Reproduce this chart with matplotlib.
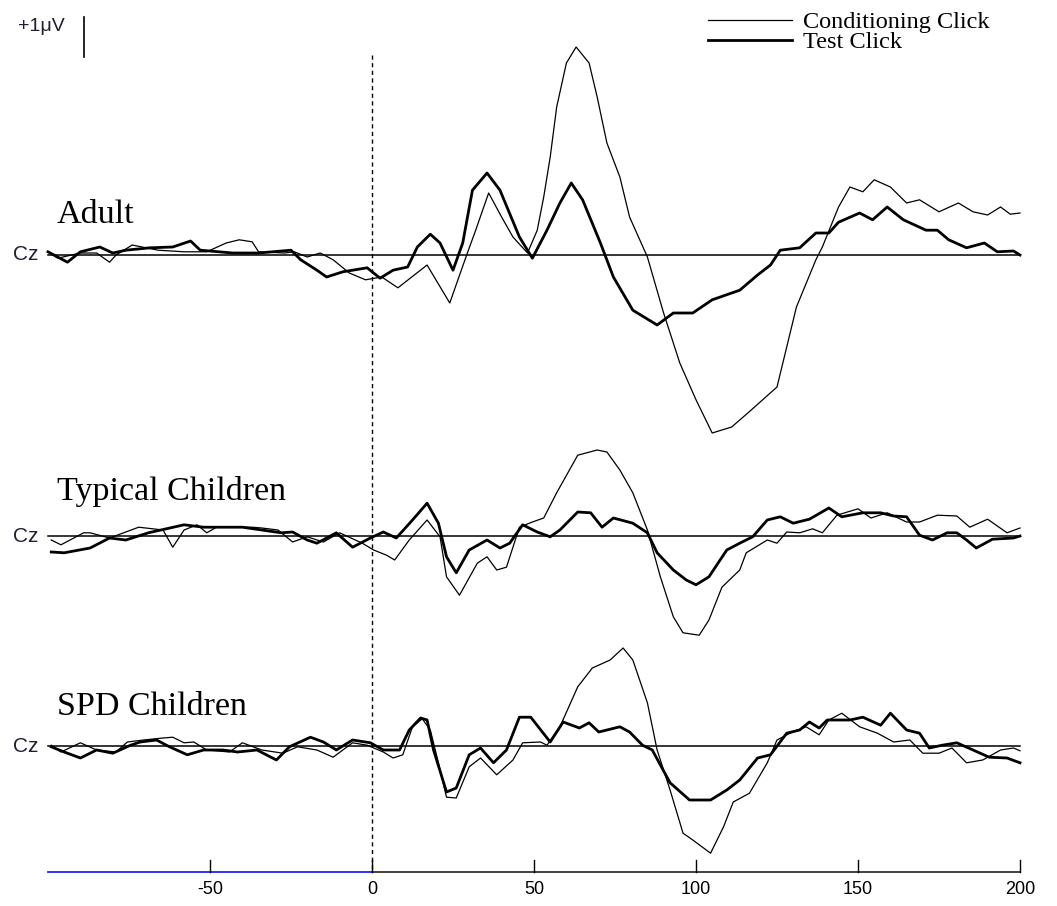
import matplotlib
matplotlib.use("Agg")
import matplotlib.pyplot as plt
import numpy as np

# ---- data (time in ms, amplitude in uV) ----
adult_cond_ms = [-100, -97, -90, -85, -81, -79, -74, -71, -66, -58, -51, -45, -41, -37, -35, -27, -24, -20, -16, -12,
                 -7, -2, 3, 8, 17, 24, 29, 32, 36, 40, 43.5, 48, 51, 53, 55, 57, 60, 63, 67, 69.5,
                 72.5, 76.5, 79.5, 85, 90, 95, 100, 105, 111, 116, 125, 128, 131, 137, 139, 144, 147.5, 151.5, 155, 160,
                 165, 169, 175, 181, 185.5, 190, 194, 197, 200]
adult_cond_uv = [0.08, -0.08, 0.05, 0.05, -0.18, 0, 0.25, 0.2, 0.12, 0.08, 0.08, 0.3, 0.38, 0.33, 0.08, 0.05, 0.08, -0.05, 0.05, -0.12,
                 -0.45, -0.62, -0.55, -0.82, -0.25, -1.2, -0.05, 0.62, 1.55, 0.95, 0.45, 0.05, 0.62, 1.45, 2.45, 3.7, 4.8, 5.2, 4.8, 3.95,
                 2.8, 1.95, 0.95, -0.05, -1.45, -2.7, -3.62, -4.45, -4.3, -3.95, -3.3, -2.3, -1.3, -0.12, 0.2, 1.2, 1.7, 1.58, 1.88, 1.7,
                 1.3, 1.38, 1.08, 1.3, 1.08, 1.0, 1.2, 1.02, 1.05]

adult_test_ms = [-100, -94, -90, -84, -80, -76, -68.5, -61.5, -56, -53, -43, -35, -25, -22, -17, -14, -9, -1.5, 2.5, 6.5,
                 11, 14, 18, 21, 25, 28, 31, 35.5, 39.5, 45.5, 49.5, 54, 58, 61.5, 65, 70.5, 74.5, 80.5, 88, 93,
                 99, 105, 113.5, 119, 123, 126, 132, 137, 141, 144, 150.5, 154.5, 159, 164, 171, 174.5, 178, 183.5, 189, 193,
                 198, 200]
adult_test_uv = [0.08, -0.18, 0.08, 0.2, 0.05, 0.12, 0.18, 0.2, 0.35, 0.12, 0.05, 0.05, 0.12, -0.12, -0.38, -0.55, -0.42, -0.32, -0.58, -0.38,
                 -0.3, 0.2, 0.52, 0.3, -0.38, 0.3, 1.62, 2.05, 1.62, 0.45, -0.08, 0.62, 1.3, 1.8, 1.38, 0.3, -0.55, -1.38, -1.75, -1.45,
                 -1.45, -1.12, -0.88, -0.5, -0.25, 0.12, 0.18, 0.55, 0.55, 0.82, 1.05, 0.88, 1.2, 0.88, 0.62, 0.62, 0.38, 0.18, 0.3, 0.08,
                 0.1, 0]

typ_cond_ms = [-99, -96, -89, -87, -81, -72, -64.5, -61.5, -58, -54, -51, -48, -37, -34, -29, -24.5, -20, -15, -10, -3,
               0.5, 4.5, 7, 11.5, 17, 21, 23, 27, 32.5, 35.5, 38.5, 41.5, 45.5, 49.5, 53, 57, 63.5, 69.5, 72.5, 76.5,
               80.5, 85, 89, 93, 96, 101, 104, 108, 113.5, 115.5, 122, 125, 128, 132, 136, 139, 143.5, 150, 154, 159,
               165, 169, 174.5, 180.5, 184.5, 190, 196, 200]
typ_cond_uv = [-0.1, -0.22, 0.08, 0.08, -0.05, 0.22, 0.15, -0.28, 0.15, 0.28, 0.08, 0.22, 0.22, 0.2, 0.15, -0.15, -0.02, -0.15, 0.08, -0.18,
               -0.35, -0.48, -0.6, -0.1, 0.4, -0.02, -1.02, -1.48, -0.68, -0.52, -0.85, -0.78, 0.22, 0.35, 0.45, 1.08, 2.02, 2.15, 2.1, 1.65,
               1.08, 0.15, -1.02, -2.02, -2.42, -2.48, -2.1, -1.28, -0.85, -0.42, -0.1, -0.18, 0.1, 0.08, 0.18, 0.08, 0.52, 0.68, 0.45, 0.58,
               0.35, 0.35, 0.52, 0.5, 0.22, 0.42, 0.08, 0.2]

typ_test_ms = [-99, -95, -87, -81, -76, -69, -58, -52, -40, -28, -24.5, -20, -17, -11, -6, -0.5, 3.5, 7.5, 12.5, 17,
               20.5, 23, 26, 30, 35.5, 39.5, 42.5, 46.5, 51, 55, 58, 63.5, 67.5, 71, 74.5, 80.5, 85, 88, 93, 97,
               100, 104, 109.5, 113.5, 117.5, 122, 126, 130, 135, 141, 145, 151.5, 157, 161, 165, 169, 173, 177.5, 180.5, 183.5,
               186.5, 191.5, 198, 200]
typ_test_uv = [-0.4, -0.42, -0.3, -0.05, -0.1, 0.08, 0.28, 0.22, 0.22, 0.08, 0.1, -0.1, -0.18, 0.08, -0.28, -0.05, 0.1, -0.05, 0.4, 0.82,
               0.32, -0.52, -0.92, -0.35, -0.1, -0.3, -0.18, 0.28, 0.1, -0.02, 0.15, 0.6, 0.58, 0.22, 0.45, 0.32, 0.08, -0.42, -0.85, -1.1,
               -1.22, -1.02, -0.35, -0.18, -0.02, 0.4, 0.48, 0.32, 0.42, 0.7, 0.48, 0.58, 0.58, 0.5, 0.48, 0.02, -0.1, 0.08, 0.08, -0.1,
               -0.3, -0.08, -0.05, 0]

spd_cond_ms = [-99, -96, -90, -85, -79, -75.5, -70.5, -64.5, -61.5, -58, -55, -51, -44, -40, -34, -27.5, -23, -17, -12, -6,
               -1.5, 3.5, 6.5, 9.5, 12.5, 15.5, 18, 20.5, 23, 26, 30, 33.5, 38.5, 43.5, 46.5, 52, 54, 58, 63.5, 68,
               73.5, 77.5, 80.5, 85, 88, 92, 96, 99, 104.5, 108.5, 111.5, 116.5, 122, 125, 129, 134, 138, 141, 145, 150.5,
               156, 161, 166, 170, 175, 179, 183.5, 188.5, 194, 198, 200]
spd_cond_uv = [0.02, -0.15, 0.08, -0.1, -0.15, 0.1, 0.15, 0.2, 0.22, 0.08, 0.1, -0.1, -0.15, 0.08, -0.1, -0.18, -0.02, -0.1, -0.28, 0.08,
               0.02, -0.15, -0.3, -0.22, 0.48, 0.68, 0.4, -0.42, -1.28, -1.3, -0.52, -0.3, -0.72, -0.35, 0.08, 0.1, 0.02, 0.48, 1.48, 1.95,
               2.15, 2.45, 2.15, 1.08, -0.1, -1.1, -2.18, -2.35, -2.68, -2.02, -1.4, -1.18, -0.42, 0.15, 0.32, 0.48, 0.28, 0.65, 0.82, 0.48,
               0.32, 0.1, 0.15, -0.18, -0.18, -0.05, -0.42, -0.35, -0.1, -0.05, -0.12]

spd_test_ms = [-99, -95, -90, -85, -80, -74.5, -71.5, -66.5, -62.5, -57, -52, -46, -41.5, -35.5, -29.5, -25.5, -19, -15, -11, -6,
               -0.5, 3.5, 8.5, 11.5, 15, 17, 19, 23, 26, 30, 33.5, 37.5, 41.5, 45.5, 49, 55, 59, 64, 67, 70,
               76.5, 79.5, 83.5, 86.5, 92, 98, 104.5, 109.5, 113.5, 119, 123, 128, 132, 135, 138, 140.5, 147.5, 151.5, 157, 160,
               165, 169, 172, 176, 180.5, 185.5, 190.5, 196, 200]
spd_test_uv = [-0.02, -0.15, -0.3, -0.1, -0.18, 0.02, 0.1, 0.15, -0.02, -0.22, -0.1, -0.1, -0.15, -0.1, -0.35, -0.02, 0.22, 0.1, -0.1, 0.15,
               0.08, -0.1, -0.1, 0.4, 0.7, 0.65, -0.1, -1.15, -1.05, -0.22, -0.05, -0.42, -0.1, 0.72, 0.72, 0.1, 0.6, 0.45, 0.58, 0.35,
               0.48, 0.35, 0.02, -0.1, -0.92, -1.35, -1.35, -1.1, -0.85, -0.3, -0.22, 0.32, 0.4, 0.6, 0.45, 0.65, 0.65, 0.72, 0.52, 0.82,
               0.4, 0.32, -0.05, 0.02, 0.08, -0.1, -0.28, -0.3, -0.42]

xticks = [-50, 0, 50, 100, 150, 200]

# ---- layout (pixels of the 1057x906 picture) ----
W, H = 1057, 906
X0_PX, X1_PX = 48, 1020      # where -100 ms and 200 ms sit
PX_PER_UV = 40.0             # height of the +1uV bar
ms_per_px = 300.0 / (X1_PX - X0_PX)


def xpx(p):
    return -100 + (p - X0_PX) * ms_per_px


def ypx(p):
    return -p / PX_PER_UV


SERIF = ['Liberation Serif', 'DejaVu Serif']
SANS = ['Liberation Sans', 'DejaVu Sans']

fig = plt.figure(figsize=(W / 100, H / 100), dpi=100)
ax = fig.add_axes([0, 0, 1, 1])
ax.set_xlim(xpx(0), xpx(W))
ax.set_ylim(ypx(H), 0)
ax.axis('off')

panels = [
    ("Adult", 255, 223, adult_cond_ms, adult_cond_uv, adult_test_ms, adult_test_uv),
    ("Typical Children", 536, 500, typ_cond_ms, typ_cond_uv, typ_test_ms, typ_test_uv),
    ("SPD Children", 746, 715, spd_cond_ms, spd_cond_uv, spd_test_ms, spd_test_uv),
]

for name, base_px, lab_px, tc, vc, tt, vt in panels:
    off = ypx(base_px)
    ax.plot([-100, 200], [off, off], color='black', lw=1.1)
    ax.plot(tc, off + np.array(vc), color='black', lw=0.9)
    ax.plot(tt, off + np.array(vt), color='black', lw=2.0, solid_joinstyle='round')
    ax.text(xpx(13), off, "Cz", ha='left', va='center', fontsize=15,
            family=SANS, color='#1f1f33')
    ax.text(xpx(57), ypx(lab_px), name, ha='left', va='baseline',
            fontsize=24.5, family=SERIF)

# stimulus onset
ax.plot([0, 0], [ypx(55), ypx(870)], color='black', lw=1.0, ls=(0, (3, 2.5)))

# time axis
axis_y = ypx(872)
ax.plot([-100, 0], [axis_y, axis_y], color='#2020ff', lw=1.3)
ax.plot([0, 200], [axis_y, axis_y], color='#333333', lw=1.3)
for t in xticks:
    ax.plot([t, t], [axis_y, axis_y + 12 / PX_PER_UV], color='black', lw=1.0)
    ax.text(t, ypx(889), str(t), ha='center', va='center', fontsize=13, family=SANS)

# amplitude scale bar
bar_x = xpx(84)
ax.plot([bar_x, bar_x], [ypx(57), ypx(57) + 1.0], color='black', lw=1.2)
ax.text(xpx(18), ypx(31), "+1\u03bcV", ha='left', va='baseline', fontsize=14,
        family=SANS, color='#1f1f33')

# legend
ax.plot([xpx(708), xpx(792)], [ypx(20), ypx(20)], color='black', lw=0.9)
ax.plot([xpx(708), xpx(792)], [ypx(40), ypx(40)], color='black', lw=2.0)
ax.text(xpx(803), ypx(28), "Conditioning Click", ha='left', va='baseline',
        fontsize=17.5, family=SERIF)
ax.text(xpx(803), ypx(47.5), "Test Click", ha='left', va='baseline',
        fontsize=17.5, family=SERIF)

fig.savefig("out.png", dpi=100)
